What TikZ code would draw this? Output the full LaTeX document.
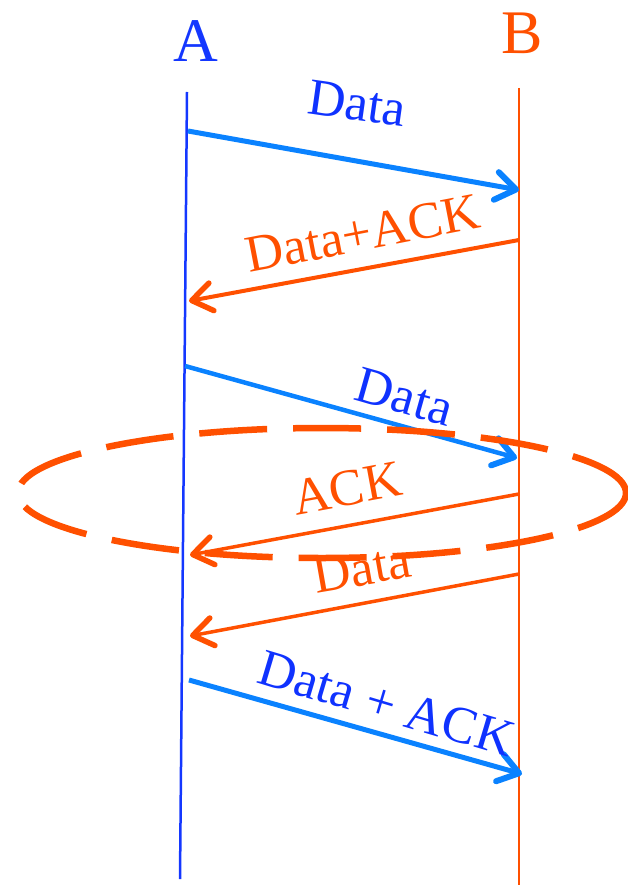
\documentclass[tikz,border=0pt]{standalone}
\usepackage{fontspec}
\setmainfont{Liberation Serif}
\usetikzlibrary{arrows.meta}
\definecolor{ora}{RGB}{255,80,0}
\definecolor{lineblue}{RGB}{20,55,255}
\definecolor{arrblue}{RGB}{10,130,255}
\definecolor{txtblue}{RGB}{15,50,255}
\begin{document}
\begin{tikzpicture}[x=1pt,y=-1pt,
  lifeA/.style={lineblue,line width=2.5pt},
  lifeB/.style={ora,line width=2pt},
  msgblue/.style={arrblue,line width=5pt,-{Straight Barb[length=20pt,width=28pt,line width=6pt,round]}},
  msgora/.style={ora,line width=4pt,-{Straight Barb[length=20pt,width=28pt,line width=5.5pt,round]}},
  lblblue/.style={txtblue,inner sep=0pt,anchor=base,font=\fontsize{52}{60}\selectfont},
  lblora/.style={ora,inner sep=0pt,anchor=base,font=\fontsize{52}{60}\selectfont},
  party/.style={inner sep=0pt,anchor=base,font=\fontsize{62}{70}\selectfont}]
\useasboundingbox (0,0) rectangle (628,885);
% parties
\node[party,lineblue] (A) at (196,62) {A};
\node[party,ora] (B) at (522,54) {B};
% lifelines
\coordinate (Atop) at (187,92);
\coordinate (Abot) at (180,879);
\coordinate (Btop) at (519,88);
\coordinate (Bbot) at (519,886);
\draw[lifeA] (Atop) -- (Abot);
\draw[lifeB] (Btop) -- (Bbot);
% message end points
\coordinate (m1s) at (188,131); \coordinate (m1e) at (519,190);
\coordinate (m2s) at (519,240); \coordinate (m2e) at (189,301);
\coordinate (m3s) at (185,366); \coordinate (m3e) at (517,458);
\coordinate (m4s) at (519,494); \coordinate (m4e) at (190,555);
\coordinate (m5s) at (519,574); \coordinate (m5e) at (190,636);
\coordinate (m6s) at (189,680); \coordinate (m6e) at (522,774);
\draw[msgblue] (m1s) -- (m1e);
\draw[msgora] (m2s) -- (m2e);
\draw[msgblue,line width=4.5pt] (m3s) -- (m3e);
\draw[msgora,line width=3.5pt] (m4s) -- (m4e);
\draw[msgora,line width=3.5pt] (m5s) -- (m5e);
\draw[msgblue] (m6s) -- (m6e);
% labels
\node[lblblue,rotate=-8] (l1) at (355,120) {Data};
\node[lblora,rotate=11] (l2) at (366,250) {Data+ACK};
\node[lblblue,rotate=-15.7] (l3) at (400,413) {Data};
\node[lblora,rotate=10.5] (l4) at (350,505) {ACK};
\node[lblora,rotate=10] (l5) at (365,585) {Data};
\node[lblblue,rotate=-16.6] (l6) at (382,720) {Data + ACK};
% dashed ellipse
\coordinate (ec) at (322,493);
\draw[ora,line width=6.5pt,dash pattern=on 68pt off 26pt] (ec) ellipse [x radius=304pt,y radius=65pt];
\end{tikzpicture}
\end{document}
